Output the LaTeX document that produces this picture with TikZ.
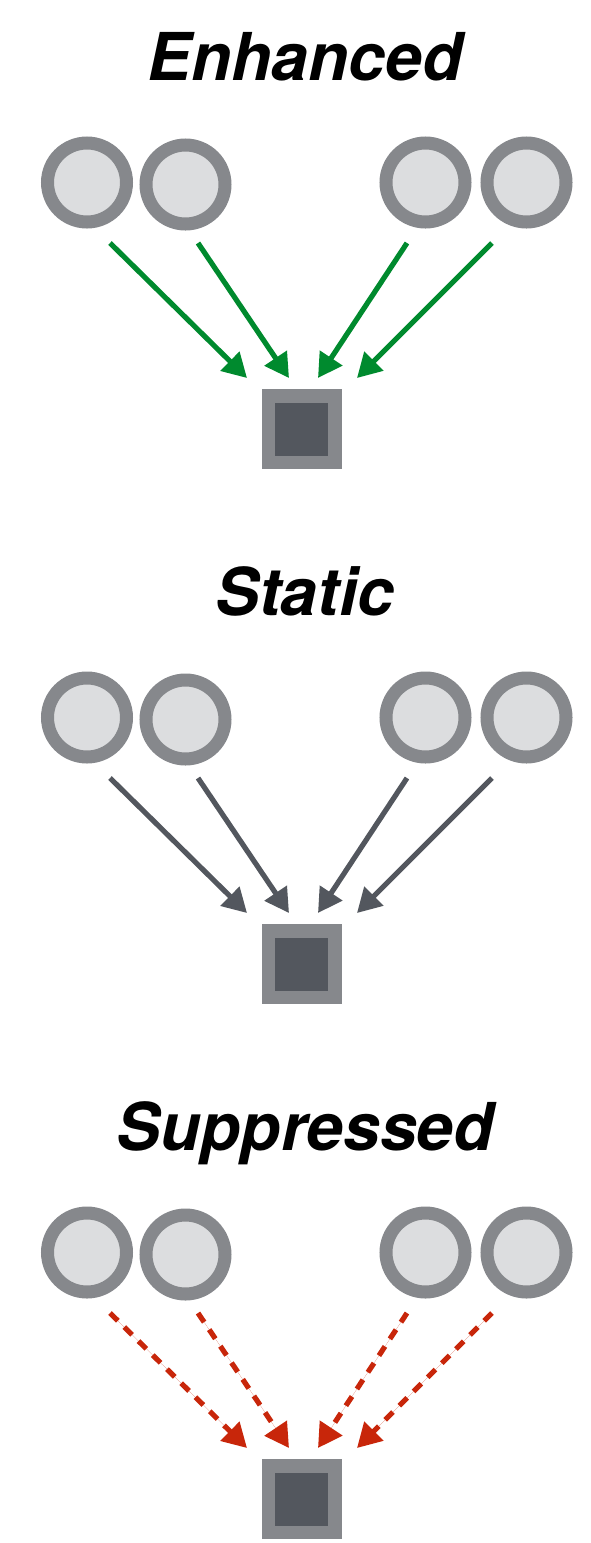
\documentclass[tikz,border=0pt]{standalone}
\usepackage{fontspec}
\setmainfont{TeX Gyre Heros}
\usetikzlibrary{arrows.meta}
\definecolor{ringgray}{HTML}{86888C}
\definecolor{ringfill}{HTML}{DCDDDF}
\definecolor{sqdark}{HTML}{53575E}
\definecolor{enhgreen}{HTML}{008A2E}
\definecolor{supred}{HTML}{C8260A}
\tikzset{
  neuron/.style={circle, draw=ringgray, fill=ringfill, line width=13pt, minimum size=79pt, inner sep=0pt},
  target/.style={rectangle, draw=ringgray, fill=sqdark, line width=13.5pt, minimum size=66.5pt, inner sep=0pt},
  title/.style={anchor=base, font=\fontsize{66}{70}\selectfont\bfseries\itshape},
  link/.style={line width=5.2pt, -{Triangle[length=24pt,width=26pt]}},
  enh/.style={link, draw=enhgreen, fill=enhgreen},
  sta/.style={link, draw=sqdark, fill=sqdark},
  sup/.style={link, draw=supred, fill=supred, dash pattern=on 11pt off 9pt},
}
\begin{document}
\begin{tikzpicture}[x=1pt,y=-1pt]
\useasboundingbox (0,0) rectangle (590,1543);
\foreach \off/\name/\lab/\sty in {0/e/Enhanced/enh, 535/s/Static/sta, 1070/u/Suppressed/sup}{
  \begin{scope}[shift={(0,\off)}]
    \node[title] (\name t) at (305,80) {\lab};
    \node[neuron] (\name c1) at (87,182.5) {};
    \node[neuron] (\name c2) at (185.5,184.5) {};
    \node[neuron] (\name c3) at (425.5,182.5) {};
    \node[neuron] (\name c4) at (526.5,182.5) {};
    \node[target] (\name q) at (301.5,429) {};
    \coordinate (\name s1) at (110,243);
    \coordinate (\name s2) at (198,243);
    \coordinate (\name s3) at (407,243);
    \coordinate (\name s4) at (492,243);
    \coordinate (\name e1) at (247,378);
    \coordinate (\name e2) at (289,378);
    \coordinate (\name e3) at (318,378);
    \coordinate (\name e4) at (357,378);
    \draw[\sty] (\name s1) -- (\name e1);
    \draw[\sty] (\name s2) -- (\name e2);
    \draw[\sty] (\name s3) -- (\name e3);
    \draw[\sty] (\name s4) -- (\name e4);
  \end{scope}
}
\end{tikzpicture}
\end{document}
